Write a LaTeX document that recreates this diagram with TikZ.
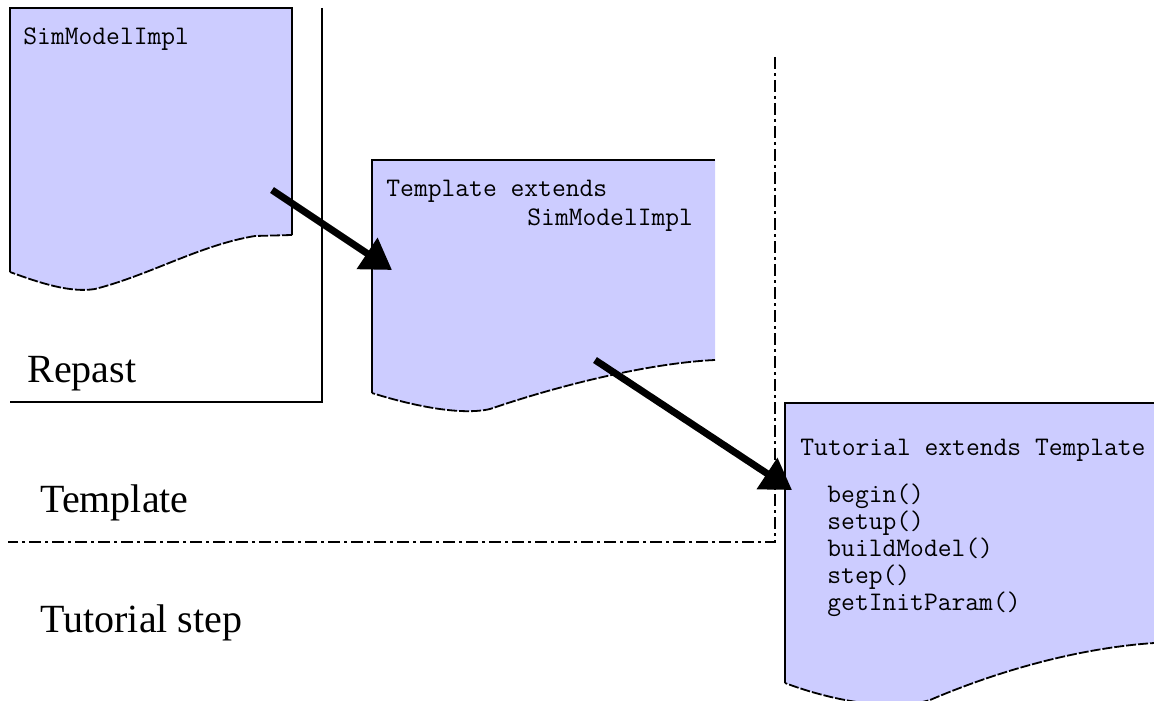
\documentclass[tikz,border=0pt]{standalone}
\usepackage{fontspec}
\setmainfont{Liberation Serif}
\usepackage{tikz}
\usetikzlibrary{arrows.meta,positioning}

\definecolor{pagefill}{RGB}{204,204,255}

\tikzset{
  pagebody/.style={fill=pagefill,draw=none},
  pageedge/.style={line width=1pt},
  tornedge/.style={line width=0.9pt,dash pattern=on 5pt off 1pt},
  code/.style={inner sep=0pt,anchor=base west,font=\ttfamily\fontsize{13.4}{15}\selectfont},
  layer/.style={inner sep=0pt,anchor=base west,font=\fontsize{20}{24}\selectfont},
  extends/.style={line width=3.5pt,-{Triangle[length=15pt,width=18pt]}}
}

\begin{document}
\begin{tikzpicture}[x=0.5pt,y=-0.5pt]
			\useasboundingbox (0,0) rectangle (1154,700);
			\clip (0,0) rectangle (1154,700);
			% pages
			\path[pagebody] (10,8) -- (292,8) -- (292,235) -- (255,236) .. controls (200,245) and (150,275) .. (95,289) .. controls (70,293) and (40,283) .. (10,272) -- cycle;
			\draw[pageedge] (10,272) -- (10,8) -- (292,8) -- (292,235);
			\draw[tornedge] (292,235) -- (255,236) .. controls (200,245) and (150,275) .. (95,289) .. controls (70,293) and (40,283) .. (10,272);
			\path[pagebody] (372,160) -- (715,160) -- (715,360) .. controls (650,363) and (560,385) .. (490,409) .. controls (460,416) and (410,405) .. (372,393) -- cycle;
			\draw[pageedge] (372,393) -- (372,160) -- (715,160);
			\draw[tornedge] (715,360) .. controls (650,363) and (560,385) .. (490,409) .. controls (460,416) and (410,405) .. (372,393);
			\path[pagebody] (785,403) -- (1160,403) -- (1160,643) -- (1154,643) .. controls (1080,648) and (1000,670) .. (930,700) .. controls (890,712) and (830,700) .. (785,683) -- cycle;
			\draw[pageedge] (785,683) -- (785,403) -- (1160,403);
			\draw[tornedge] (1160,643) -- (1154,643) .. controls (1080,648) and (1000,670) .. (930,700) .. controls (890,712) and (830,700) .. (785,683);
			% layers
			\draw[pageedge] (322,8) -- (322,402) -- (10,402);
			\draw[line width=0.9pt,dash pattern=on 6pt off 2pt on 1.5pt off 2pt] (775,57) -- (775,542) -- (8,542);
			\node[layer] (repast) at (27,382) {Repast};
			\node[layer] (template) at (40,512) {Template};
			\node[layer] (tutorial) at (40,632) {Tutorial step};
			% code
			\node[code] (simmodel) at (23,45) {SimModelImpl};
			\node[code] (tmplhead) at (386,197) {Template extends};
			\node[code] (tmplbase) at (527,225) {SimModelImpl};
			\node[code] (tuthead) at (800,455) {Tutorial extends Template};
			\foreach \m [count=\i] in {begin(),setup(),buildModel(),step(),getInitParam()}
				\node[code] (meth\i) at (827,475+27*\i) {\m};
			% arrows
			\coordinate (fromsim) at (272,190);
			\coordinate (intmpl) at (392,270);
			\coordinate (fromtmpl) at (595,360);
			\coordinate (intut) at (792,490);
			\draw[extends] (fromsim) -- (intmpl);
			\draw[extends] (fromtmpl) -- (intut);
		\end{tikzpicture}
\end{document}
